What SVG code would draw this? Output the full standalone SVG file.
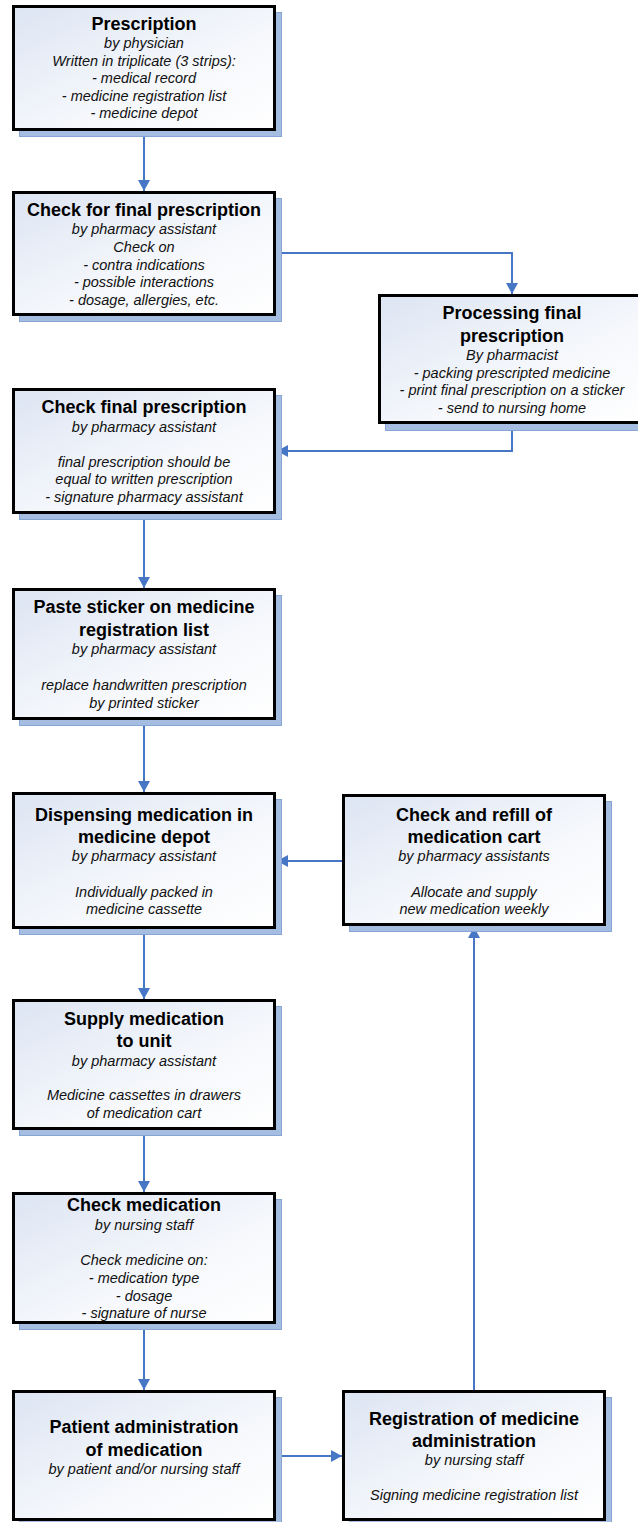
<svg xmlns="http://www.w3.org/2000/svg" width="638" height="1522" viewBox="0 0 638 1522">
<defs>
<linearGradient id="fill" x1="0" y1="0" x2="1" y2="1">
<stop offset="0" stop-color="#dde5f3"/>
<stop offset="0.6" stop-color="#f6f8fc"/>
<stop offset="1" stop-color="#ffffff"/>
</linearGradient>
<marker id="arr" markerUnits="userSpaceOnUse" markerWidth="12" markerHeight="12" refX="11" refY="6" orient="auto">
<path d="M0,0 L11,6 L0,12 z" fill="#4777c4"/>
</marker>
<style>
.sh{fill:#a6bde2;stroke:#87a4d6;stroke-width:1}
.bx{fill:url(#fill);stroke:#000;stroke-width:3}
.t{font-family:"Liberation Sans",Arial,sans-serif;font-size:18px;font-weight:bold;text-anchor:middle;fill:#000}
.s{font-family:"Liberation Sans",Arial,sans-serif;font-size:14.5px;font-style:italic;text-anchor:middle;fill:#111}
.c{fill:none;stroke:#4777c4;stroke-width:2;marker-end:url(#arr)}
</style>
</defs>
<rect width="638" height="1522" fill="#fff"/>

<g id="connectors">
<path class="c" d="M144,131 V191"/>
<path class="c" d="M276,253 H512 V294"/>
<path class="c" d="M512,424 V451 H277"/>
<path class="c" d="M144,514 V588"/>
<path class="c" d="M144,720 V792"/>
<path class="c" d="M342,861 H277"/>
<path class="c" d="M144,929 V999"/>
<path class="c" d="M144,1130 V1192"/>
<path class="c" d="M144,1324 V1390"/>
<path class="c" d="M276,1456 H342"/>
<path class="c" d="M474,1390 V927"/>
</g>

<g id="prescription">
<rect class="sh" x="19.5" y="12.5" width="262" height="124"/>
<rect class="bx" x="13.5" y="6.5" width="261" height="123"/>
<text class="t" x="144" y="29.5">Prescription</text>
<text class="s" x="144" y="48">by physician</text>
<text class="s" x="144" y="65.5">Written in triplicate (3 strips):</text>
<text class="s" x="144" y="83">- medical record</text>
<text class="s" x="144" y="100.5">- medicine registration list</text>
<text class="s" x="144" y="118">- medicine depot</text>
</g>

<g id="check-for-final">
<rect class="sh" x="19.5" y="198.5" width="262" height="123"/>
<rect class="bx" x="13.5" y="192.5" width="261" height="122"/>
<text class="t" x="144" y="216">Check for final prescription</text>
<text class="s" x="144" y="234">by pharmacy assistant</text>
<text class="s" x="144" y="252">Check on</text>
<text class="s" x="144" y="269.5">- contra indications</text>
<text class="s" x="144" y="287">- possible interactions</text>
<text class="s" x="144" y="305">- dosage, allergies, etc.</text>
</g>

<g id="processing-final">
<rect class="sh" x="385.5" y="301.5" width="266" height="129"/>
<rect class="bx" x="379.5" y="295.5" width="265" height="127"/>
<text class="t" x="512" y="319">Processing final</text>
<text class="t" x="512" y="341.5">prescription</text>
<text class="s" x="512" y="360">By pharmacist</text>
<text class="s" x="512" y="377.5">- packing prescripted medicine</text>
<text class="s" x="512" y="395">- print final prescription on a sticker</text>
<text class="s" x="512" y="412.5">- send to nursing home</text>
</g>

<g id="check-final">
<rect class="sh" x="19.5" y="395.5" width="262" height="124"/>
<rect class="bx" x="13.5" y="389.5" width="261" height="123"/>
<text class="t" x="144" y="413">Check final prescription</text>
<text class="s" x="144" y="431.5">by pharmacy assistant</text>
<text class="s" x="144" y="466.5">final prescription should be</text>
<text class="s" x="144" y="484">equal to written prescription</text>
<text class="s" x="144" y="502">- signature pharmacy assistant</text>
</g>

<g id="paste-sticker">
<rect class="sh" x="19.5" y="595.5" width="262" height="130"/>
<rect class="bx" x="13.5" y="589.5" width="261" height="129"/>
<text class="t" x="144" y="613">Paste sticker on medicine</text>
<text class="t" x="144" y="635.5">registration list</text>
<text class="s" x="144" y="653.5">by pharmacy assistant</text>
<text class="s" x="144" y="690">replace handwritten prescription</text>
<text class="s" x="144" y="707.5">by printed sticker</text>
</g>

<g id="dispensing">
<rect class="sh" x="19.5" y="799.5" width="262" height="135"/>
<rect class="bx" x="13.5" y="793.5" width="261" height="134"/>
<text class="t" x="144" y="820.5">Dispensing medication in</text>
<text class="t" x="144" y="842.5">medicine depot</text>
<text class="s" x="144" y="861">by pharmacy assistant</text>
<text class="s" x="144" y="897">Individually packed in</text>
<text class="s" x="144" y="914">medicine cassette</text>
</g>

<g id="check-refill">
<rect class="sh" x="349.5" y="801.5" width="262" height="130"/>
<rect class="bx" x="343.5" y="795.5" width="261" height="129"/>
<text class="t" x="474" y="820.5">Check and refill of</text>
<text class="t" x="474" y="842.5">medication cart</text>
<text class="s" x="474" y="861">by pharmacy assistants</text>
<text class="s" x="474" y="897">Allocate and supply</text>
<text class="s" x="474" y="914">new medication weekly</text>
</g>

<g id="supply">
<rect class="sh" x="19.5" y="1006.5" width="262" height="129"/>
<rect class="bx" x="13.5" y="1000.5" width="261" height="128"/>
<text class="t" x="144" y="1025">Supply medication</text>
<text class="t" x="144" y="1046.5">to unit</text>
<text class="s" x="144" y="1065.5">by pharmacy assistant</text>
<text class="s" x="144" y="1100">Medicine cassettes in drawers</text>
<text class="s" x="144" y="1117.5">of medication cart</text>
</g>

<g id="check-medication">
<rect class="sh" x="19.5" y="1199.5" width="262" height="130"/>
<rect class="bx" x="13.5" y="1193.5" width="261" height="129"/>
<text class="t" x="144" y="1211">Check medication</text>
<text class="s" x="144" y="1230">by nursing staff</text>
<text class="s" x="144" y="1265">Check medicine on:</text>
<text class="s" x="144" y="1283">- medication type</text>
<text class="s" x="144" y="1301">- dosage</text>
<text class="s" x="144" y="1318">- signature of nurse</text>
</g>

<g id="patient-administration">
<rect class="sh" x="19.5" y="1397.5" width="262" height="130"/>
<rect class="bx" x="13.5" y="1391.5" width="261" height="128"/>
<text class="t" x="144" y="1433">Patient administration</text>
<text class="t" x="144" y="1455.5">of medication</text>
<text class="s" x="144" y="1474">by patient and/or nursing staff</text>
</g>

<g id="registration">
<rect class="sh" x="349.5" y="1397.5" width="262" height="130"/>
<rect class="bx" x="343.5" y="1391.5" width="261" height="128"/>
<text class="t" x="474" y="1424.5">Registration of medicine</text>
<text class="t" x="474" y="1446.5">administration</text>
<text class="s" x="474" y="1465">by nursing staff</text>
<text class="s" x="474" y="1500">Signing medicine registration list</text>
</g>
</svg>
